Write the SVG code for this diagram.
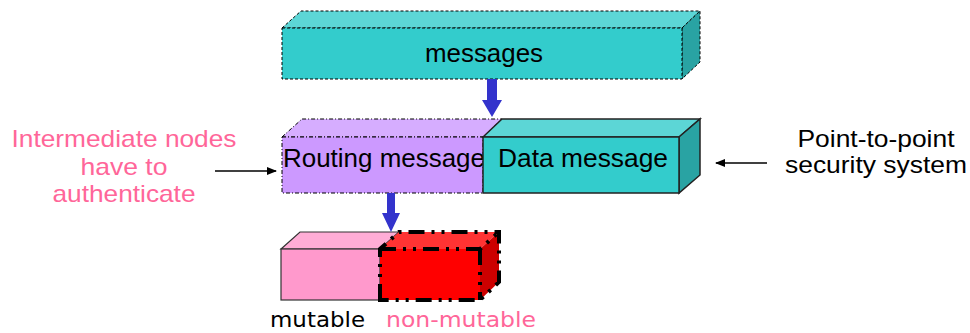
<svg xmlns="http://www.w3.org/2000/svg" width="970" height="333" viewBox="0 0 970 333">
<style>
.lbl{font-family:"Liberation Sans",Arial,sans-serif;font-size:26px;fill:#000;text-anchor:middle}
.pink{fill:#FF6699}
.vd{font-family:"DejaVu Sans",Verdana,sans-serif;font-size:22px}
.thin{stroke:#000;stroke-width:1}
</style>
<defs>
<marker id="ah" markerWidth="10" markerHeight="8" refX="9" refY="4" orient="auto" markerUnits="userSpaceOnUse">
<path d="M0,0 L10,4 L0,8 Z" fill="#000"/>
</marker>
</defs>
<rect width="970" height="333" fill="#fff"/>
<g id="messages">
<polygon points="282,28 301,11 700,11 682,28" fill="#5CD6D6" class="thin" stroke-dasharray="3,2"/>
<polygon points="682,28 700,11 700,62 682,79" fill="#29A3A3" class="thin" stroke-dasharray="3,2"/>
<rect x="282" y="28" width="400" height="51" fill="#33CCCC" class="thin" stroke-dasharray="3,2"/>
<text x="484" y="62" class="lbl" textLength="118" lengthAdjust="spacingAndGlyphs">messages</text>
</g>
<g id="routing">
<polygon points="282,137 302,119 502,119 483,137" fill="#D6ADFF" class="thin" stroke-dasharray="4,2,1,2"/>
<rect x="282" y="137" width="201" height="56" fill="#CC99FF" class="thin" stroke-dasharray="4,2,1,2"/>
<text x="283" y="167" class="lbl" style="text-anchor:start" textLength="202" lengthAdjust="spacingAndGlyphs">Routing message</text>
</g>
<g id="data">
<polygon points="483,137 502,119 700,119 679,137" fill="#5CD6D6" stroke="#222" stroke-width="1.5"/>
<polygon points="679,137 700,119 700,175 679,193" fill="#29A3A3" stroke="#222" stroke-width="1.5"/>
<rect x="483" y="137" width="196" height="56" fill="#33CCCC" stroke="#222" stroke-width="1.5"/>
<text x="583" y="167" class="lbl" textLength="170" lengthAdjust="spacingAndGlyphs">Data message</text>
</g>
<g id="mutable">
<polygon points="281,249 300,232 399,232 380,249" fill="#FFADD6" stroke="#333" stroke-width="1.2"/>
<rect x="281" y="249" width="99" height="51" fill="#FF99CC" stroke="#333" stroke-width="1.2"/>
<text x="270" y="327" class="vd" textLength="95" lengthAdjust="spacingAndGlyphs">mutable</text>
</g>
<g id="nonmutable">
<polygon points="380,249 399,232 499,232 480,249" fill="#FF3333"/>
<polygon points="480,249 499,232 499,282 480,300" fill="#CC0000"/>
<rect x="380" y="249" width="100" height="51" fill="#FF0000"/>
<g fill="none" stroke="#000" stroke-width="4" stroke-dasharray="16,7,3,7,3,7">
<path d="M380,300 L380,249 L399,232 L499,232 L499,282 L480,300 Z"/>
<path d="M380,249 L480,249 L499,232 M480,249 L480,300"/>
</g>
<text x="386" y="327" class="vd pink" textLength="150" lengthAdjust="spacingAndGlyphs">non-mutable</text>
</g>
<g id="left-note">
<text class="lbl pink" x="124" y="147" style="font-size:24px" textLength="225" lengthAdjust="spacingAndGlyphs">Intermediate nodes</text>
<text class="lbl pink" x="124" y="175" style="font-size:24px" textLength="87" lengthAdjust="spacingAndGlyphs">have to</text>
<text class="lbl pink" x="124" y="202" style="font-size:24px" textLength="143" lengthAdjust="spacingAndGlyphs">authenticate</text>
</g>
<g id="right-note">
<text class="lbl" x="876" y="147" style="font-size:24px" textLength="157" lengthAdjust="spacingAndGlyphs">Point-to-point</text>
<text class="lbl" x="876" y="173" style="font-size:24px" textLength="182" lengthAdjust="spacingAndGlyphs">security system</text>
</g>
<g id="connectors">
<polygon points="487,79 497,79 497,100 502,100 492,117 482,100 487,100" fill="#3333CC"/>
<polygon points="387,193 395,193 395,213 400,213 391,232 382,213 387,213" fill="#3333CC"/>
<line x1="215" y1="171" x2="276" y2="171" stroke="#000" stroke-width="1.3" marker-end="url(#ah)"/>
<line x1="767" y1="163" x2="716" y2="163" stroke="#000" stroke-width="1.3" marker-end="url(#ah)"/>
</g>
</svg>
